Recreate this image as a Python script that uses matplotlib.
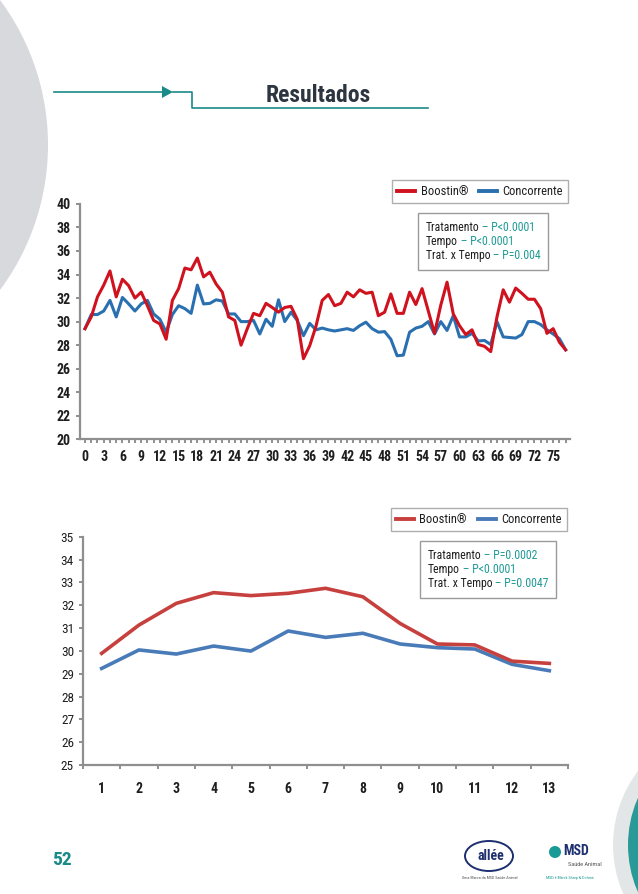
import matplotlib
matplotlib.use("Agg")
import matplotlib.pyplot as plt
from matplotlib.lines import Line2D
from matplotlib.patches import Circle, Polygon, Ellipse
from matplotlib.offsetbox import TextArea, HPacker, VPacker, AnchoredOffsetbox

plt.rcParams['font.family'] = ['Roboto Condensed', 'Liberation Sans Narrow', 'Liberation Sans', 'DejaVu Sans']

# --- dados ---
dias = list(range(78))
boostin_dia = [29.4, 30.4, 32.1, 33.1, 34.3, 32.1, 33.6, 33.05, 32.0, 32.5,
               31.35, 30.1, 29.8, 28.5, 31.8, 32.8, 34.55, 34.4, 35.4, 33.8,
               34.2, 33.2, 32.5, 30.4, 30.1, 28.0, 29.4, 30.7, 30.5, 31.55,
               31.2, 30.8, 31.2, 31.3, 30.2, 26.85, 27.95, 29.6, 31.8, 32.3,
               31.35, 31.55, 32.5, 32.1, 32.7, 32.4, 32.5, 30.5, 30.8, 32.35,
               30.7, 30.7, 32.5, 31.45, 32.8, 30.9, 29.0, 31.4, 33.35, 30.65,
               29.65, 28.9, 29.3, 28.05, 27.9, 27.45, 30.4, 32.7, 31.65, 32.85,
               32.4, 31.9, 31.9, 31.1, 29.0, 29.4, 28.25, 27.6]
concorrente_dia = [29.4, 30.6, 30.6, 30.9, 31.8, 30.4, 32.05, 31.5, 30.9, 31.5,
                   31.8, 30.65, 30.2, 29.1, 30.6, 31.35, 31.1, 30.7, 33.1, 31.5,
                   31.55, 31.85, 31.75, 30.65, 30.65, 30.0, 30.0, 30.1, 28.95, 30.2,
                   29.6, 31.85, 30.0, 30.8, 30.1, 28.8, 29.85, 29.3, 29.45, 29.3,
                   29.2, 29.3, 29.4, 29.25, 29.65, 29.95, 29.4, 29.1, 29.15, 28.5,
                   27.1, 27.15, 29.1, 29.45, 29.6, 30.0, 28.95, 30.0, 29.25, 30.5,
                   28.7, 28.7, 29.0, 28.35, 28.4, 28.05, 30.0, 28.7, 28.65, 28.6,
                   28.9, 30.0, 30.0, 29.75, 29.3, 28.95, 28.55, 27.6]

semanas = list(range(1, 14))
boostin_sem = [29.89, 31.13, 32.08, 32.55, 32.42, 32.52, 32.74, 32.37, 31.2, 30.3, 30.26, 29.55, 29.45]
concorrente_sem = [29.23, 30.04, 29.86, 30.21, 29.99, 30.87, 30.59, 30.77, 30.3, 30.14, 30.08, 29.41, 29.13]

series_nomes = ['Boostin®', 'Concorrente']
stats_dia = [('Tratamento', '– P<0.0001'), ('Tempo', '– P<0.0001'), ('Trat. x Tempo', '– P=0.004')]
stats_sem = [('Tratamento', '– P=0.0002'), ('Tempo', '– P<0.0001'), ('Trat. x Tempo', '– P=0.0047')]

TEAL = '#1a8a88'
GRAY = '#8f8f8f'
TXT = '#1e1e1e'

fig = plt.figure(figsize=(6.38, 8.94), dpi=100)

# fundo / decoracao da pagina em pixels
bg = fig.add_axes([0, 0, 1, 1], zorder=0)
bg.set_xlim(0, 638)
bg.set_ylim(894, 0)
bg.axis('off')
bg.add_patch(Circle((-195, 145), 243, color='#d7d9dc', lw=0))
bg.add_patch(Circle((735, 845), 122, color='#e3e6e7', lw=0))
bg.add_patch(Circle((745, 845), 117, color='#2a9a98', lw=0))
bg.plot([54, 166], [92, 92], color=TEAL, lw=1.2)
bg.add_patch(Polygon([[162, 86], [173, 92], [162, 98]], color=TEAL, lw=0))
bg.plot([173, 192, 192, 428], [92, 92, 108, 108], color=TEAL, lw=1.2)
bg.text(318, 96, 'Resultados', ha='center', va='center', fontsize=17, fontweight='bold', color='#2d3540')
bg.text(62, 860, '52', ha='center', va='center', fontsize=14, fontweight='bold', color=TEAL)
bg.add_patch(Ellipse((489, 856), 48, 30, fill=False, ec='#1d2f6f', lw=1.4))
bg.text(491, 856, 'allée', ha='center', va='center', fontsize=10, fontweight='bold', color='#1d2f6f')
bg.text(490, 878, 'Uma Marca da MSD Saúde Animal', ha='center', va='center', fontsize=3, color='#555555')
bg.add_patch(Circle((555, 852), 6, color='#1a9a96', lw=0))
bg.text(563, 851, 'MSD', ha='left', va='center', fontsize=10, fontweight='bold', color='#1d2f6f')
bg.text(568, 864, 'Saúde Animal', ha='left', va='center', fontsize=4.5, color='#555555')
bg.text(570, 878, 'MSD é Merck Sharp & Dohme', ha='center', va='center', fontsize=3, color='#1a9a96')


def estilo_eixo(ax):
    for s in ['top', 'right']:
        ax.spines[s].set_visible(False)
    for s in ['left', 'bottom']:
        ax.spines[s].set_color(GRAY)
        ax.spines[s].set_linewidth(1.6)
    ax.tick_params(axis='both', colors=GRAY, length=3, width=1.4, direction='out')


def caixa_stats(ax, linhas, xy):
    rows = []
    for rotulo, p in linhas:
        rows.append(HPacker(children=[TextArea(rotulo, textprops=dict(color=TXT, fontsize=8.5)),
                                      TextArea(' ' + p, textprops=dict(color='#1f9a96', fontsize=8.5))],
                            pad=0, sep=0))
    box = VPacker(children=rows, pad=0, sep=1, align='left')
    anch = AnchoredOffsetbox(loc='upper left', child=box, pad=0.55, borderpad=0, frameon=True,
                             bbox_to_anchor=xy, bbox_transform=fig.transFigure)
    anch.patch.set_boxstyle('square', pad=0)
    anch.patch.set_edgecolor('#9a9a9a')
    anch.patch.set_linewidth(1.0)
    ax.add_artist(anch)


def legenda(ax, cores, xy):
    handles = [Line2D([0], [0], color=c, lw=2.8) for c in cores]
    leg = ax.legend(handles, series_nomes, ncol=2, loc='upper right', bbox_to_anchor=xy,
                    bbox_transform=fig.transFigure, frameon=True, fancybox=False,
                    edgecolor='#9a9a9a', fontsize=9, handlelength=1.4, columnspacing=0.9,
                    borderpad=0.4, handletextpad=0.45, borderaxespad=0)
    leg.get_frame().set_linewidth(1.0)
    for t in leg.get_texts():
        t.set_color(TXT)


# --- grafico 1: por dia ---
ax1 = fig.add_axes([80 / 638, 1 - 439.3 / 894, 490 / 638, 235.4 / 894], zorder=2)
ax1.plot(dias, boostin_dia, color='#d0121e', lw=2.2, zorder=3)
ax1.plot(dias, concorrente_dia, color='#2a70b0', lw=2.2, zorder=2)
ax1.set_xlim(-0.8, 77.7)
ax1.set_ylim(20, 40)
ax1.set_yticks(range(20, 41, 2))
ax1.set_xticks(dias)
ax1.set_xticklabels([str(d) if d % 3 == 0 else '' for d in dias])
estilo_eixo(ax1)
ax1.tick_params(axis='x', pad=5)
for lab in ax1.get_xticklabels() + ax1.get_yticklabels():
    lab.set_fontsize(10)
    lab.set_fontweight('bold')
    lab.set_color(TXT)
legenda(ax1, ['#d0121e', '#2a70b0'], (568 / 638, 1 - 180 / 894))
caixa_stats(ax1, stats_dia, (418 / 638, 1 - 213 / 894))

# --- grafico 2: por semana ---
ax2 = fig.add_axes([83 / 638, 1 - 765 / 894, 485 / 638, 228.3 / 894], zorder=2)
ax2.plot(semanas, boostin_sem, color='#c6403e', lw=2.6, zorder=3)
ax2.plot(semanas, concorrente_sem, color='#4a7bb9', lw=2.6, zorder=2)
ax2.set_xlim(0.5, 13.5)
ax2.set_ylim(25, 35)
ax2.set_yticks(range(25, 36))
ax2.set_xticks([s - 0.5 for s in semanas] + [13.5])
ax2.set_xticklabels([])
ax2.set_xticks(semanas, minor=True)
ax2.set_xticklabels([str(s) for s in semanas], minor=True)
estilo_eixo(ax2)
ax2.tick_params(axis='x', which='minor', length=0, pad=12)
for lab in ax2.get_xticklabels(minor=True):
    lab.set_fontsize(10)
    lab.set_fontweight('bold')
    lab.set_color(TXT)
for lab in ax2.get_yticklabels():
    lab.set_fontsize(9.5)
    lab.set_color(TXT)
legenda(ax2, ['#c6403e', '#4a7bb9'], (567 / 638, 1 - 508 / 894))
caixa_stats(ax2, stats_sem, (420 / 638, 1 - 541 / 894))

fig.savefig('out.png', dpi=100)
